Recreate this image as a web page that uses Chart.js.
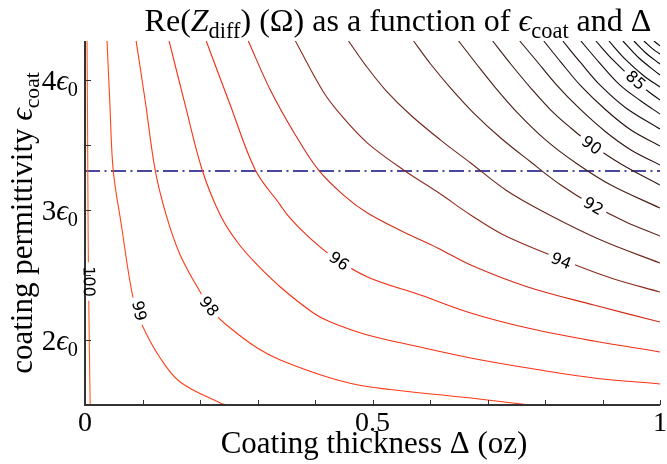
<!DOCTYPE html>
<html>
<head>
<meta charset="utf-8">
<script src="https://cdn.jsdelivr.net/npm/chart.js@4.4.1/dist/chart.umd.min.js"></script>
<style>
  html, body { margin: 0; padding: 0; background: #fff; }
  canvas { display: block; }
</style>
</head>
<body>
<canvas id="contour-chart" width="667" height="464" style="width:667px;height:464px"></canvas>
<script>
// --- data ---
// x = coating thickness (oz), y = coating permittivity (units of eps0)

const levels = [100, 99, 98, 97, 96, 95, 94, 93, 92, 91, 90, 89, 88, 87, 86, 85, 84, 83, 82, 81, 80];

const c100 = [[0.0035, 4.3], [0.0045, 3.6], [0.0055, 2.8], [0.0068, 2.2], [0.009, 1.5]];
const c99 = [[0.0383, 4.3], [0.043, 3.846], [0.049, 3.308], [0.0627, 2.9], [0.0836, 2.323], [0.0993, 2.115],
  [0.1307, 1.862], [0.1655, 1.677], [0.2352, 1.515], [0.2456, 1.5]];
const c98 = [[0.0889, 4.3], [0.1045, 3.846], [0.122, 3.308], [0.1411, 2.962], [0.1655, 2.654], [0.2003, 2.369],
  [0.223, 2.215], [0.2526, 2.092], [0.2997, 1.938], [0.3397, 1.846], [0.4268, 1.708], [0.4965, 1.638],
  [0.6707, 1.554], [0.7439, 1.515], [0.775, 1.5]];
const c97 = [[0.1463, 4.3], [0.1742, 3.808], [0.2038, 3.308], [0.2352, 2.962], [0.2648, 2.754], [0.2997, 2.577],
  [0.3397, 2.408], [0.3972, 2.208], [0.4268, 2.138], [0.4913, 2.038], [0.5662, 1.962], [0.6707, 1.862],
  [0.77, 1.785], [0.885, 1.708], [1.0, 1.662]];
const c96 = [[0.2108, 4.3], [0.2526, 3.808], [0.2962, 3.308], [0.3397, 3.038], [0.3519, 2.962], [0.3798, 2.831],
  [0.4268, 2.654], [0.4913, 2.485], [0.5836, 2.346], [0.6707, 2.208], [0.77, 2.092], [0.885, 1.992], [1.0, 1.908]];
const c95 = [[0.284, 4.3], [0.3223, 3.923], [0.3659, 3.577], [0.4059, 3.308], [0.4495, 3.115], [0.4913, 2.977],
  [0.554, 2.831], [0.6132, 2.708], [0.6707, 2.577], [0.77, 2.408], [0.885, 2.269], [1.0, 2.138]];
const c94 = [[0.3659, 4.3], [0.4146, 3.908], [0.4495, 3.708], [0.4913, 3.515], [0.554, 3.308], [0.6132, 3.138],
  [0.6707, 2.962], [0.7282, 2.808], [0.8223, 2.631], [0.9146, 2.477], [1.0, 2.369]];
const c93 = [[0.4582, 4.3], [0.4878, 4.115], [0.5226, 3.923], [0.5662, 3.731], [0.6185, 3.538], [0.6707, 3.362],
  [0.7317, 3.154], [0.7979, 2.985], [0.8972, 2.769], [1.0, 2.592]];
const c92 = [[0.5714, 4.3], [0.601, 4.123], [0.6359, 3.938], [0.676, 3.746], [0.723, 3.554], [0.7753, 3.369],
  [0.8275, 3.192], [0.8833, 3.038], [0.9408, 2.908], [1.0, 2.8]];
const c91 = [[0.6498, 4.3], [0.6794, 4.131], [0.7143, 3.938], [0.7526, 3.746], [0.8014, 3.538], [0.8537, 3.362],
  [0.9146, 3.192], [1.0, 3.015]];
const c90 = [[0.709, 4.3], [0.7404, 4.123], [0.7753, 3.938], [0.8101, 3.769], [0.8449, 3.631], [0.8798, 3.508],
  [0.9321, 3.354], [1.0, 3.192]];
const c89 = [[0.7561, 4.3], [0.784, 4.154], [0.8188, 3.969], [0.8589, 3.785], [0.9059, 3.6], [0.9495, 3.462], [1.0, 3.346]];
const c88 = [[0.7979, 4.3], [0.8275, 4.138], [0.8624, 3.954], [0.9059, 3.769], [0.9495, 3.615], [1.0, 3.492]];
const c87 = [[0.831, 4.3], [0.8624, 4.131], [0.8972, 3.954], [0.9408, 3.785], [1.0, 3.623]];
const c86 = [[0.8624, 4.3], [0.8937, 4.138], [0.9286, 3.969], [0.9669, 3.838], [1.0, 3.738]];
const c85 = [[0.8885, 4.3], [0.9181, 4.154], [0.9547, 4.0], [0.9808, 3.908], [1.0, 3.846]];
const c84 = [[0.9111, 4.3], [0.9408, 4.154], [0.9721, 4.031], [1.0, 3.946]];
const c83 = [[0.9355, 4.3], [0.9634, 4.169], [1.0, 4.038]];
const c82 = [[0.9547, 4.3], [0.9774, 4.2], [1.0, 4.123]];
const c81 = [[0.9721, 4.3], [0.9878, 4.238], [1.0, 4.2]];
const c80 = [[0.9895, 4.3], [1.0, 4.262]];

const contours = [c100, c99, c98, c97, c96, c95, c94, c93, c92, c91, c90,
  c89, c88, c87, c86, c85, c84, c83, c82, c81, c80];

// inline contour labels
const labelLevels = [100, 99, 98, 96, 94, 92, 90, 85];
const labelX = [0.005, 0.0923, 0.2143, 0.4408, 0.8275, 0.8833, 0.8798, 0.9564];
const labelY = [2.45, 2.223, 2.254, 2.6, 2.6, 3.023, 3.492, 3.992];

// horizontal reference line
const refPermittivity = 3.3;

// axes
const xTickValues = [0, 0.1, 0.2, 0.3, 0.4, 0.5, 0.6, 0.7, 0.8, 0.9, 1];
const xTickLabels = [[0, '0'], [0.5, '0.5'], [1, '1']];
const yTickValues = [2, 2.5, 3, 3.5, 4];
const yTickLabels = [[2, '2'], [3, '3'], [4, '4']];

// --- styles ---
const lineColors = {
  100: '#ff5a1e', 99: '#ff4418', 98: '#ff3814', 97: '#fa3012', 96: '#f02c12', 95: '#d42a16',
  94: '#8e2a1e', 93: '#6e261c', 92: '#5a2219', 91: '#481e16', 90: '#3a1a14', 89: '#2e1510',
  88: '#24100c', 87: '#1c0c0a', 86: '#160a08', 85: '#120806', 84: '#0e0604', 83: '#0a0403',
  82: '#080302', 81: '#050201', 80: '#000000'
};
const SERIF = '"Liberation Serif", "DejaVu Serif", serif';
const LABEL_FONT = '16px "DejaVu Sans", sans-serif';

// draws text made of parts: ['text', ''|'i'|'s'] (normal, italic, subscript)
function drawRich(ctx, parts, x, y, size, align) {
  const font = s => (s === 'i' ? 'italic ' : '') + (s === 's' ? size * 0.7 : size) + 'px ' + SERIF;
  let w = 0;
  parts.forEach(([t, s]) => { ctx.font = font(s); w += ctx.measureText(t).width; });
  let cx = align === 'center' ? x - w / 2 : align === 'right' ? x - w : x;
  ctx.textAlign = 'left';
  ctx.textBaseline = 'alphabetic';
  parts.forEach(([t, s]) => {
    ctx.font = font(s);
    ctx.fillText(t, cx, s === 's' ? y + size * 0.22 : y);
    cx += ctx.measureText(t).width;
  });
}

const decorPlugin = {
  id: 'decor',
  afterDatasetsDraw(chart) {
    const { ctx, chartArea: a, scales: { x, y } } = chart;
    ctx.save();

    // work out label placement along its own contour
    ctx.font = LABEL_FONT;
    const placed = labelLevels.map((lev, k) => {
      const pts = contours[levels.indexOf(lev)].map(([vx, vy]) => [x.getPixelForValue(vx), y.getPixelForValue(vy)]);
      const px = x.getPixelForValue(labelX[k]);
      const py = y.getPixelForValue(labelY[k]);
      let best = 0, bd = Infinity;
      pts.forEach((p, i) => {
        const d = (p[0] - px) ** 2 + (p[1] - py) ** 2;
        if (d < bd) { bd = d; best = i; }
      });
      const p0 = pts[Math.max(0, best - 1)], p1 = pts[Math.min(pts.length - 1, best + 1)];
      let ang = Math.atan2(p1[1] - p0[1], p1[0] - p0[0]);
      if (ang > Math.PI / 2) ang -= Math.PI;
      if (ang < -Math.PI / 2) ang += Math.PI;
      return { txt: String(lev), px, py, ang, w: ctx.measureText(String(lev)).width };
    });

    // gap in the line under each label
    ctx.save();
    ctx.beginPath();
    ctx.rect(a.left, a.top, a.right - a.left, a.bottom - a.top);
    ctx.clip();
    ctx.fillStyle = '#fff';
    placed.forEach(l => {
      ctx.save();
      ctx.translate(l.px, l.py);
      ctx.rotate(l.ang);
      ctx.fillRect(-l.w / 2 - 4, -5, l.w + 8, 10);
      ctx.restore();
    });
    ctx.restore();

    // spines (left and bottom only)
    ctx.strokeStyle = '#333';
    ctx.lineWidth = 2;
    ctx.beginPath();
    ctx.moveTo(a.left, a.top);
    ctx.lineTo(a.left, a.bottom);
    ctx.lineTo(a.right, a.bottom);
    ctx.stroke();

    // inward ticks
    ctx.lineWidth = 1;
    ctx.beginPath();
    xTickValues.forEach(v => {
      const px = Math.round(x.getPixelForValue(v)) + 0.5;
      ctx.moveTo(px, a.bottom);
      ctx.lineTo(px, a.bottom - 5);
    });
    yTickValues.forEach(v => {
      const py = Math.round(y.getPixelForValue(v)) + 0.5;
      ctx.moveTo(a.left, py);
      ctx.lineTo(a.left + 6, py);
    });
    ctx.stroke();

    // contour label text
    ctx.fillStyle = '#000';
    ctx.font = LABEL_FONT;
    ctx.textAlign = 'center';
    ctx.textBaseline = 'middle';
    placed.forEach(l => {
      ctx.save();
      ctx.translate(l.px, l.py);
      ctx.rotate(l.ang);
      ctx.fillText(l.txt, 0, 0);
      ctx.restore();
    });

    // tick labels
    ctx.fillStyle = '#000';
    xTickLabels.forEach(([v, t]) => drawRich(ctx, [[t, '']], x.getPixelForValue(v), a.bottom + 26, 28, 'center'));
    yTickLabels.forEach(([v, t]) => drawRich(ctx, [[t, ''], ['\u03f5', 'i'], ['0', 's']], 78, y.getPixelForValue(v) + 10, 29, 'right'));

    // titles
    drawRich(ctx, [['Re(', ''], ['Z', 'i'], ['diff', 's'], [') (\u03a9) as a function of ', ''],
      ['\u03f5', 'i'], ['coat', 's'], [' and \u0394', '']], 398, 31, 32, 'center');
    drawRich(ctx, [['Coating thickness \u0394 (oz)', '']], 374, 453, 31, 'center');
    ctx.save();
    ctx.translate(32, 223);
    ctx.rotate(-Math.PI / 2);
    drawRich(ctx, [['coating permittivity ', ''], ['\u03f5', 'i'], ['coat', 's']], 0, 0, 31, 'center');
    ctx.restore();

    ctx.restore();
  }
};

const datasets = contours.map((pts, i) => ({
  label: String(levels[i]),
  data: pts.map(([vx, vy]) => ({ x: vx, y: vy })),
  showLine: true,
  borderColor: lineColors[levels[i]],
  borderWidth: 1.1,
  pointRadius: 0,
  tension: 0.35,
  fill: false
}));

datasets.push({
  label: 'reference',
  data: [{ x: 0, y: refPermittivity }, { x: 1, y: refPermittivity }],
  showLine: true,
  borderColor: '#0c0c84',
  borderWidth: 1.5,
  borderDash: [15, 4.5, 2, 4.5],
  pointRadius: 0,
  fill: false
});

new Chart(document.getElementById('contour-chart'), {
  type: 'scatter',
  data: { datasets },
  options: {
    responsive: false,
    animation: false,
    devicePixelRatio: 1,
    layout: { padding: { left: 85, right: 7, top: 41, bottom: 59 } },
    plugins: { legend: { display: false }, tooltip: { enabled: false } },
    scales: {
      x: { type: 'linear', min: 0, max: 1, display: false },
      y: { type: 'linear', min: 1.5, max: 4.3, display: false }
    }
  },
  plugins: [decorPlugin]
});
</script>
</body>
</html>
